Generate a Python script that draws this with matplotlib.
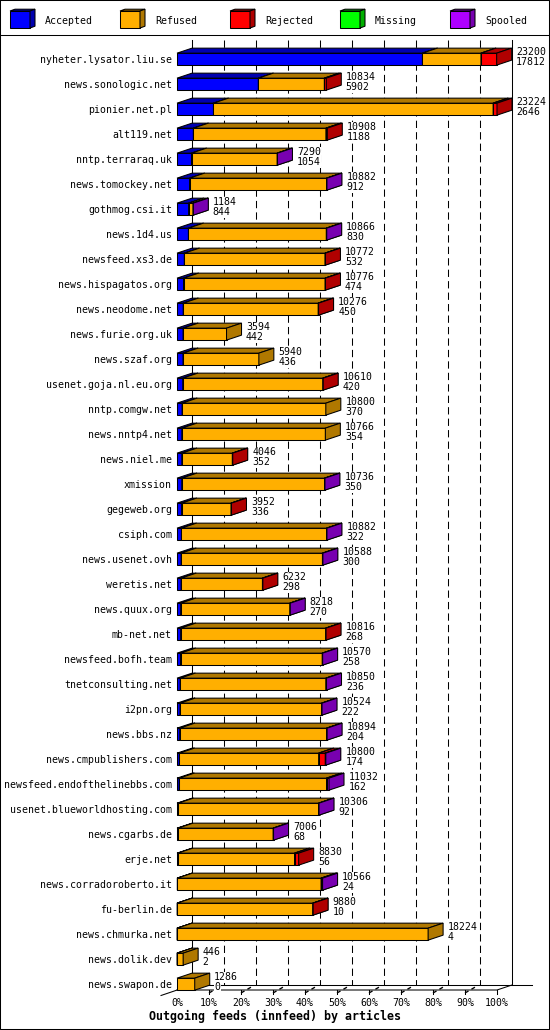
import matplotlib
matplotlib.use('Agg')
import matplotlib.pyplot as plt
from matplotlib.patches import Polygon, Rectangle
from matplotlib.lines import Line2D

hosts = ["nyheter.lysator.liu.se", "news.sonologic.net", "pionier.net.pl", "alt119.net",
         "nntp.terraraq.uk", "news.tomockey.net", "gothmog.csi.it", "news.1d4.us",
         "newsfeed.xs3.de", "news.hispagatos.org", "news.neodome.net", "news.furie.org.uk",
         "news.szaf.org", "usenet.goja.nl.eu.org", "nntp.comgw.net", "news.nntp4.net",
         "news.niel.me", "xmission", "gegeweb.org", "csiph.com", "news.usenet.ovh",
         "weretis.net", "news.quux.org", "mb-net.net", "newsfeed.bofh.team",
         "tnetconsulting.net", "i2pn.org", "news.bbs.nz", "news.cmpublishers.com",
         "newsfeed.endofthelinebbs.com", "usenet.blueworldhosting.com", "news.cgarbs.de",
         "erje.net", "news.corradoroberto.it", "fu-berlin.de", "news.chmurka.net",
         "news.dolik.dev", "news.swapon.de"]
offered = [23200, 10834, 23224, 10908, 7290, 10882, 1184, 10866, 10772, 10776, 10276, 3594,
           5940, 10610, 10800, 10766, 4046, 10736, 3952, 10882, 10588, 6232, 8218, 10816,
           10570, 10850, 10524, 10894, 10800, 11032, 10306, 7006, 8830, 10566, 9880, 18224,
           446, 1286]
accepted = [17812, 5902, 2646, 1188, 1054, 912, 844, 830, 532, 474, 450, 442, 436, 420, 370,
            354, 352, 350, 336, 322, 300, 298, 270, 268, 258, 236, 222, 204, 174, 162, 92, 68,
            56, 24, 10, 4, 2, 0]
refused = [4248, 4792, 20298, 9620, 6216, 9940, 320, 10006, 10210, 10272, 9796, 3152, 5504,
           10160, 10430, 10412, 3664, 10356, 3586, 10530, 10258, 5904, 7918, 10518, 10282,
           10564, 10272, 10650, 10106, 10690, 10184, 6908, 8474, 10432, 9840, 18220, 444, 1286]
rejected = [1140, 140, 280, 100, 0, 0, 0, 0, 30, 30, 30, 0, 0, 30, 0, 0, 30, 0, 30, 0, 0, 30,
            0, 30, 0, 0, 0, 0, 480, 0, 0, 0, 300, 80, 30, 0, 0, 0]
missing = [0] * 38
spooled = [0, 0, 0, 0, 20, 30, 20, 30, 0, 0, 0, 0, 0, 0, 0, 0, 0, 30, 0, 30, 30, 0, 30, 0, 30,
           50, 30, 40, 40, 180, 30, 30, 0, 30, 0, 0, 0, 0]

series_names = ["Accepted", "Refused", "Rejected", "Missing", "Spooled"]
front_colors = ["#0000FF", "#FFAF00", "#FF0000", "#00FF00", "#AF00FF"]
dark_colors = ["#0000B0", "#B07800", "#B00000", "#00B000", "#7800B0"]
tick_labels = ["0%", "10%", "20%", "30%", "40%", "50%", "60%", "70%", "80%", "90%", "100%"]
title = "Outgoing feeds (innfeed) by articles"

series = [accepted, refused, rejected, missing, spooled]
XMAX = max(offered)

W, H = 550, 1030
X0PX, X1PX = 177.0, 497.0
S = XMAX / (X1PX - X0PX)          # articles per pixel
ROW0, PITCH = 59.15, 25.0


def px2x(px):
    return (px - X0PX) * S


def py2y(py):
    return (py - ROW0) / PITCH


DX = 15.0 * S
DY = 5.0 / PITCH
HALF = 6.0 / PITCH
LW = 0.75
FONT = "DejaVu Sans Mono"
FS = 7.15
WHITE_BOX = dict(fc="white", ec="none", pad=0.3)

fig = plt.figure(figsize=(W / 100, H / 100), dpi=100)
ax = fig.add_axes([0, 0, 1, 1])
ax.set_xlim(px2x(0), px2x(W))
ax.set_ylim(py2y(H), py2y(0))
ax.axis("off")

# frame and legend separator
ax.add_line(Line2D([px2x(0.5), px2x(548.5), px2x(548.5), px2x(0.5), px2x(0.5)],
                   [py2y(0.5), py2y(0.5), py2y(1028.5), py2y(1028.5), py2y(0.5)],
                   color="black", lw=LW, zorder=10))
ax.add_line(Line2D([px2x(0), px2x(W)], [py2y(35), py2y(35)], color="black", lw=LW, zorder=10))

# legend
for k, name in enumerate(series_names):
    lx = 10 + 110 * k
    x0, x1 = px2x(lx), px2x(lx + 20)
    yt, yb = py2y(11), py2y(28)
    ldx, ldy = 5 * S, 1.8 / PITCH
    ax.add_patch(Rectangle((x0, yt), x1 - x0, yb - yt, fc=front_colors[k], ec="black", lw=LW, zorder=5))
    ax.add_patch(Polygon([(x0, yt), (x1, yt), (x1 + ldx, yt - ldy), (x0 + ldx, yt - ldy)],
                         closed=True, fc=dark_colors[k], ec="black", lw=LW, zorder=5))
    ax.add_patch(Polygon([(x1, yt), (x1, yb), (x1 + ldx, yb - ldy), (x1 + ldx, yt - ldy)],
                         closed=True, fc=dark_colors[k], ec="black", lw=LW, zorder=5))
    ax.text(px2x(lx + 35), py2y(23.5), name, fontfamily=FONT, fontsize=FS, ha="left",
            va="baseline", zorder=6)

# back plane / grid
ytop = py2y(40)
yback = py2y(985)
yfront = py2y(990)
for j in range(11):
    xb = j / 10 * XMAX + DX
    if j in (0, 10):
        ax.add_line(Line2D([xb, xb], [ytop, yback], color="black", lw=LW, zorder=1))
    else:
        ax.add_line(Line2D([xb, xb], [ytop, yback], color="black", lw=LW, zorder=1,
                           dashes=(7, 4)))
# floor
ax.add_line(Line2D([DX, px2x(532)], [yback, yback], color="black", lw=LW, zorder=1))
ax.add_line(Line2D([0, XMAX, XMAX + DX], [yfront, yfront, yback], color="black", lw=LW, zorder=1))
ax.add_line(Line2D([px2x(161), DX], [py2y(995.5), yback], color="black", lw=LW, zorder=1))
for j in range(11):
    xf = j / 10 * XMAX
    if j > 0:
        ax.add_line(Line2D([xf, xf], [yfront, py2y(994)], color="black", lw=LW, zorder=1))
        if j < 10:
            ax.add_line(Line2D([xf, xf + DX * 0.8], [py2y(993), py2y(986)], color="black",
                               lw=LW * 1.3, zorder=1, dashes=(3, 2.5)))
    ax.text(xf, py2y(1006), tick_labels[j], fontfamily=FONT, fontsize=FS, ha="center",
            va="baseline")

ax.text(px2x(275), py2y(1020), title, fontfamily=FONT, fontsize=8.4, fontweight="bold",
        ha="center", va="baseline")

# bars
for i, host in enumerate(hosts):
    yt, yb = i - HALF, i + HALF
    start = 0.0
    for k in range(len(series)):
        v = series[k][i]
        if v <= 0:
            continue
        x0, x1 = start, start + v
        ax.add_patch(Rectangle((x0, yt), v, yb - yt, fc=front_colors[k], ec="black", lw=LW, zorder=3))
        ax.add_patch(Polygon([(x0, yt), (x1, yt), (x1 + DX, yt - DY), (x0 + DX, yt - DY)],
                             closed=True, fc=dark_colors[k], ec="black", lw=LW, zorder=3))
        ax.add_patch(Polygon([(x1, yt), (x1, yb), (x1 + DX, yb - DY), (x1 + DX, yt - DY)],
                             closed=True, fc=dark_colors[k], ec="black", lw=LW, zorder=3))
        start = x1
    ax.text(px2x(172), i + 4.3 / PITCH, host, fontfamily=FONT, fontsize=FS, ha="right",
            va="baseline")
    xl = offered[i] + DX + 4.5 * S
    ax.text(xl, i - 4.0 / PITCH, str(offered[i]), fontfamily=FONT, fontsize=FS, ha="left",
            va="baseline", zorder=4, bbox=WHITE_BOX)
    ax.text(xl, i + 6.0 / PITCH, str(accepted[i]), fontfamily=FONT, fontsize=FS, ha="left",
            va="baseline", zorder=4, bbox=WHITE_BOX)

fig.savefig("out.png", dpi=100, facecolor="white")
